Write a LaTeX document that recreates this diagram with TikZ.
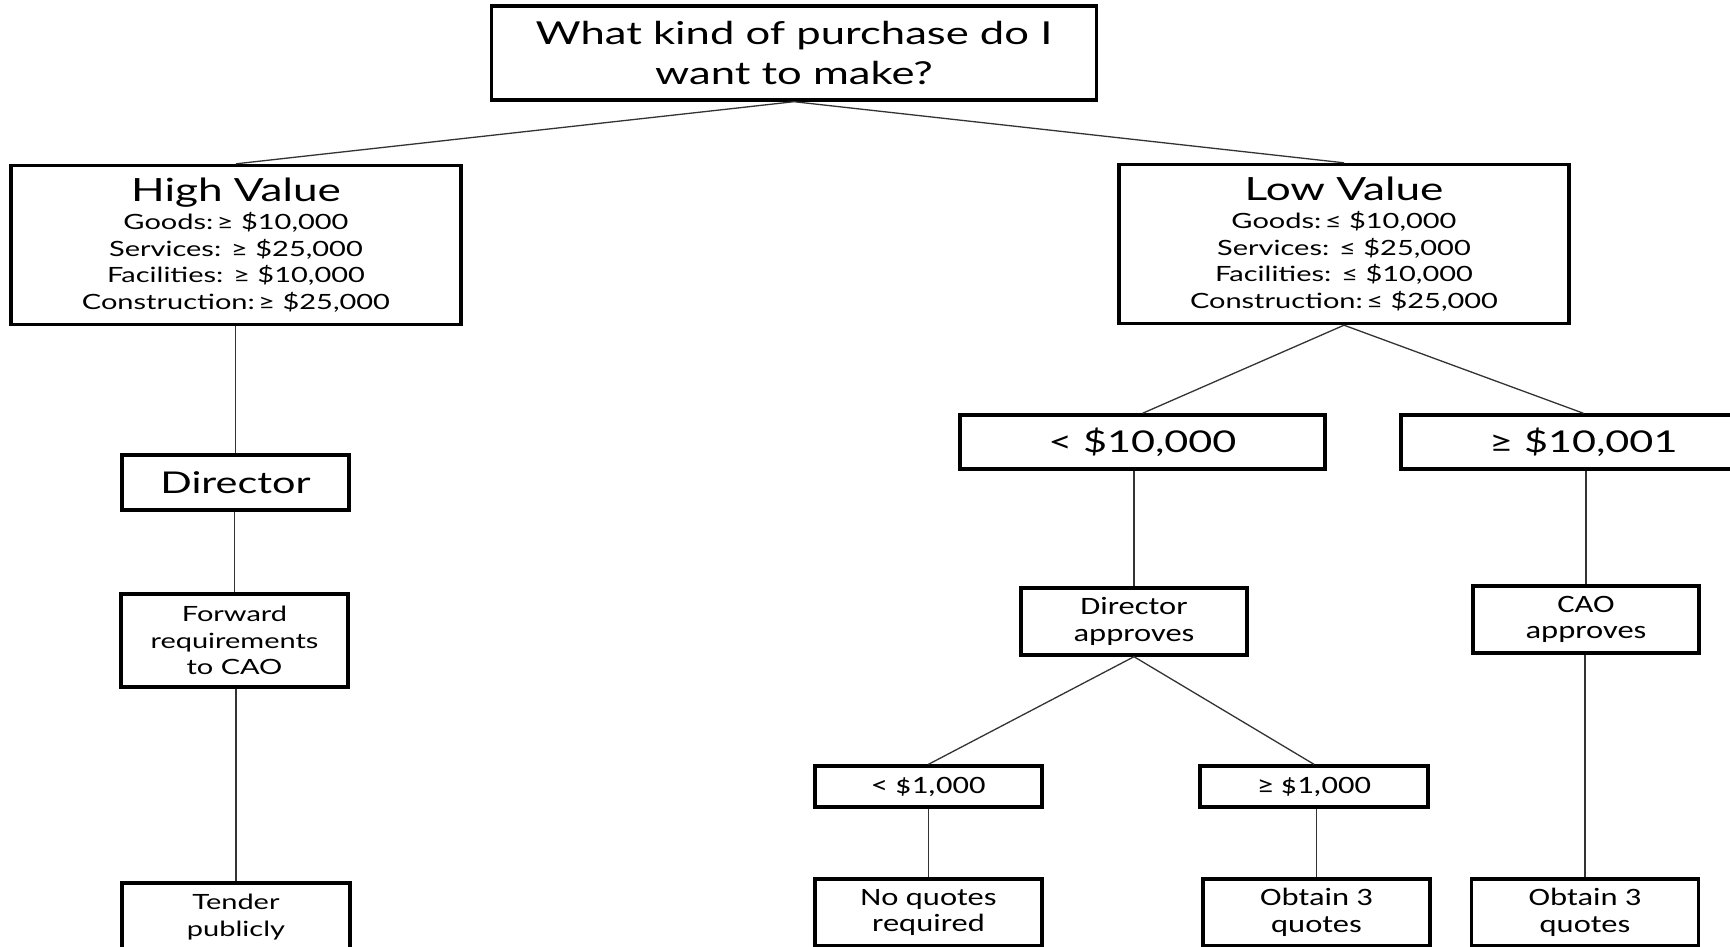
\documentclass[tikz,border=0pt]{standalone}
\usepackage{fontspec}
\newfontfamily\widefont[FakeStretch=1.38]{Lato}
\newfontfamily\slimfont[FakeStretch=1.3]{Carlito}

\begin{document}
\begin{tikzpicture}[x=1pt,y=-1pt,
    box/.style={draw,line width=3.4pt,fill=white,align=center,inner sep=0pt},
    wh/.style 2 args={minimum width=#1pt,minimum height=#2pt},
    bigtxt/.style={font=\widefont\fontsize{30}{38}\selectfont},
    midtxt/.style={font=\widefont\fontsize{21}{26.5}\selectfont},
    smalltxt/.style={font=\slimfont\fontsize{25}{26.5}\selectfont},
    link/.style={line width=1.3pt,black!80}]

  % page frame, cut at the edges like the scan
  \useasboundingbox (0,0) rectangle (1730,947);
  \fill [white] (0,0) rectangle (1730,947);
  \clip (0,0) rectangle (1730,947);

  % question at the top
  \node [box,wh={605}{94},font=\widefont\fontsize{31.6}{40}\selectfont] (ask) at (794,53)
    {What kind of purchase do I\\want to make?};

  % the two value classes
  \node [box,wh={450}{159},midtxt] (high) at (236,245)
    {{\fontsize{32}{34}\selectfont High Value}\\[2pt]
     Goods:\,≥ \$10,000\\ Services: ≥ \$25,000\\
     Facilities: ≥ \$10,000\\ Construction:\,≥ \$25,000};
  \node [box,wh={450}{159},midtxt] (low) at (1344,244)
    {{\fontsize{32}{34}\selectfont Low Value}\\[2pt]
     Goods:\,≤ \$10,000\\ Services: ≤ \$25,000\\
     Facilities: ≤ \$10,000\\ Construction:\,≤ \$25,000};

  % high value branch
  \node [box,wh={227}{55},bigtxt] (director) at (235.5,482.5) {Director};
  \node [box,wh={227}{93},midtxt] (forward) at (234.5,640.5) {Forward\\requirements\\to CAO};
  \node [box,wh={228}{68},midtxt] (tender) at (236,917) {Tender\\publicly};

  % low value branch
  \node [box,wh={365}{54},bigtxt] (under10k) at (1142.5,442) {< \$10,000};
  \node [box,wh={365}{54},bigtxt] (over10k) at (1583.5,442) {≥ \$10,001};
  \node [box,wh={226}{67},smalltxt] (dirok) at (1134,621.5) {Director\\approves};
  \node [box,wh={226}{67},smalltxt] (caook) at (1586,619.5) {CAO\\approves};
  \node [box,wh={227}{41},smalltxt] (under1k) at (928.5,786.5) {< \$1,000};
  \node [box,wh={228}{41},smalltxt] (over1k) at (1314,786.5) {≥ \$1,000};
  \node [box,wh={227}{67},smalltxt] (noquotes) at (928.5,912.5) {No quotes\\required};
  \node [box,wh={227}{67},smalltxt] (threeA) at (1316.5,912.5) {Obtain 3\\quotes};
  \node [box,wh={227}{67},smalltxt] (threeB) at (1585,912.5) {Obtain 3\\quotes};

  % slanted connectors
  \foreach \a/\b in {ask/high,ask/low,low/under10k,low/over10k,dirok/under1k,dirok/over1k}
    \draw [link] (\a.south) -- (\b.north);

  % straight down connectors
  \foreach \a/\b in {high/director,director/forward,forward/tender,under10k/dirok,
      over10k/caook,under1k/noquotes,over1k/threeA,caook/threeB}
    \draw [link] (\a.south -| \b.north) -- (\b.north);

\end{tikzpicture}
\end{document}
